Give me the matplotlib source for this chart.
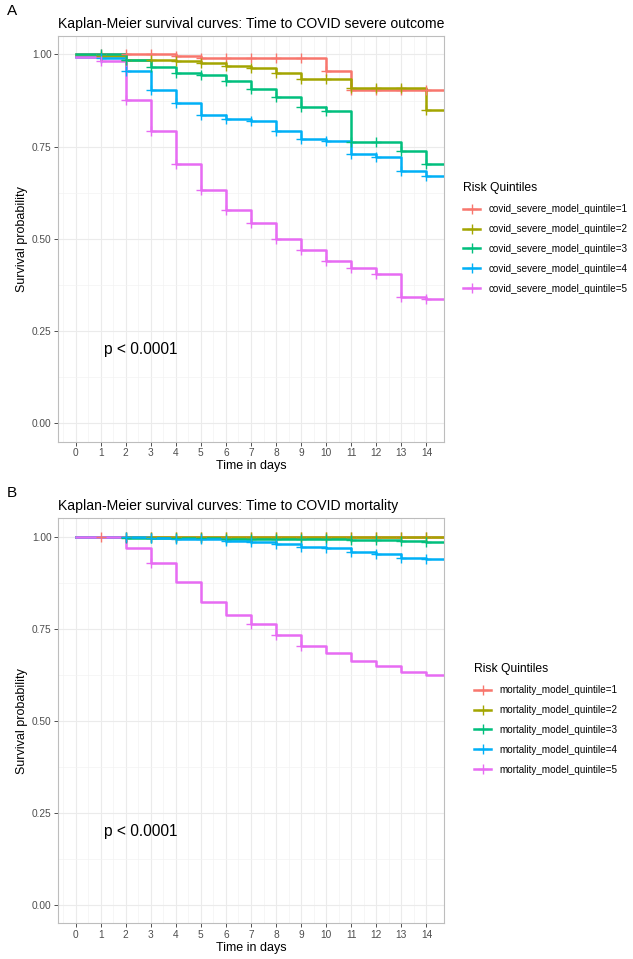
import matplotlib
matplotlib.use("Agg")
import matplotlib.pyplot as plt
from matplotlib.lines import Line2D

plt.rcParams['font.family'] = ['Liberation Sans', 'DejaVu Sans']

# days since baseline
days = list(range(15))

# Panel A: time to COVID severe outcome (survival probability per day)
sev_q1 = [1.000, 1.000, 1.000, 1.000, 0.995, 0.991, 0.991, 0.991, 0.991, 0.991, 0.955, 0.903, 0.903, 0.903, 0.903]
sev_q2 = [0.997, 0.997, 0.986, 0.984, 0.981, 0.977, 0.970, 0.962, 0.951, 0.934, 0.934, 0.909, 0.909, 0.909, 0.849]
sev_q3 = [1.000, 1.000, 0.985, 0.966, 0.949, 0.943, 0.929, 0.906, 0.885, 0.857, 0.847, 0.763, 0.763, 0.738, 0.703]
sev_q4 = [0.994, 0.989, 0.954, 0.904, 0.869, 0.835, 0.824, 0.819, 0.792, 0.771, 0.765, 0.731, 0.721, 0.685, 0.671]
sev_q5 = [0.994, 0.983, 0.876, 0.793, 0.704, 0.632, 0.578, 0.544, 0.499, 0.470, 0.440, 0.420, 0.405, 0.343, 0.336]
sev_labels = ["covid_severe_model_quintile=%d" % i for i in range(1, 6)]
sev_censor = [days[1:]] * 5

# Panel B: time to COVID mortality
mort_q1 = [1.000] * 15
mort_q2 = [1.000, 1.000, 0.999, 0.999, 0.999, 0.999, 0.999, 0.999, 0.999, 0.999, 0.999, 0.999, 0.999, 0.999, 0.999]
mort_q3 = [1.000, 1.000, 0.997, 0.997, 0.997, 0.996, 0.995, 0.995, 0.995, 0.995, 0.995, 0.990, 0.990, 0.988, 0.986]
mort_q4 = [1.000, 1.000, 0.998, 0.996, 0.994, 0.993, 0.988, 0.986, 0.980, 0.973, 0.970, 0.958, 0.952, 0.943, 0.939]
mort_q5 = [1.000, 1.000, 0.968, 0.928, 0.876, 0.824, 0.788, 0.763, 0.733, 0.704, 0.684, 0.663, 0.650, 0.632, 0.624]
mort_labels = ["mortality_model_quintile=%d" % i for i in range(1, 6)]
mort_censor = [days[1:], days[2:], days[2:], days[2:], [3, 7, 8, 9]]

colors = ["#F8766D", "#A3A500", "#00BF7D", "#00B0F6", "#E76BF3"]
XLIM = (-0.7, 14.7)


def draw_panel(ax, curves, censor, title):
    for curve, cens, col in zip(curves, censor, colors):
        xs = days + [XLIM[1]]
        ys = curve + [curve[-1]]
        ax.plot(xs, ys, drawstyle="steps-post", color=col, lw=1.8, zorder=3)
        ax.plot(cens, [curve[d] for d in cens], ls="none", marker="+",
                ms=6.5, mew=1.0, color=col, zorder=4)
    ax.set_xlim(*XLIM)
    ax.set_ylim(-0.05, 1.05)
    ax.set_xticks(days)
    ax.set_xticks([d + 0.5 for d in days[:-1]] + [-0.5], minor=True)
    ax.set_yticks([0, 0.25, 0.5, 0.75, 1.0])
    ax.set_yticklabels(["0.00", "0.25", "0.50", "0.75", "1.00"])
    ax.set_yticks([0.125, 0.375, 0.625, 0.875], minor=True)
    ax.grid(which="major", color="#EBEBEB", lw=0.8, zorder=0)
    ax.grid(which="minor", color="#F3F3F3", lw=0.5, zorder=0)
    ax.set_axisbelow(True)
    ax.tick_params(which="major", length=3, width=0.6, color="#333333",
                   labelsize=7.3, labelcolor="#4D4D4D", pad=1.5)
    ax.tick_params(which="minor", length=0)
    for sp in ax.spines.values():
        sp.set_color("#BDBDBD")
        sp.set_linewidth(0.8)
    ax.set_xlabel("Time in days", fontsize=9, labelpad=1.5)
    ax.set_ylabel("Survival probability", fontsize=9, labelpad=3)
    ax.set_title(title, loc="left", fontsize=10.1, pad=6)
    ax.text(1.15, 0.20, "p < 0.0001", fontsize=11.2, ha="left", va="center")


W, H = 633, 959
fig = plt.figure(figsize=(W / 100, H / 100), dpi=100)

ax1 = fig.add_axes([58 / W, 1 - 441.7 / H, 386 / W, 405.7 / H])
draw_panel(ax1, [sev_q1, sev_q2, sev_q3, sev_q4, sev_q5], sev_censor,
           "Kaplan-Meier survival curves: Time to COVID severe outcome")

ax2 = fig.add_axes([58 / W, 1 - 923.4 / H, 386 / W, 405.1 / H])
draw_panel(ax2, [mort_q1, mort_q2, mort_q3, mort_q4, mort_q5], mort_censor,
           "Kaplan-Meier survival curves: Time to COVID mortality")

fig.text(7 / W, 1 - 15 / H, "A", fontsize=11, va="baseline")
fig.text(7 / W, 1 - 497 / H, "B", fontsize=11, va="baseline")


def add_legend(labels, x, ycenter):
    handles = [Line2D([], [], color=c, lw=1.8, marker="+", ms=6.5, mew=1.0)
               for c in colors]
    leg = fig.legend(handles, labels, title="Risk Quintiles", loc="center left",
                     bbox_to_anchor=(x / W, 1 - ycenter / H), frameon=False,
                     fontsize=7.1, title_fontsize=8.7, handlelength=1.75,
                     handletextpad=0.8, labelspacing=1.0, borderpad=0,
                     borderaxespad=0, alignment="left")
    return leg


add_legend(sev_labels, 463, 238)
add_legend(mort_labels, 474, 719)

fig.savefig("out.png", dpi=100)
